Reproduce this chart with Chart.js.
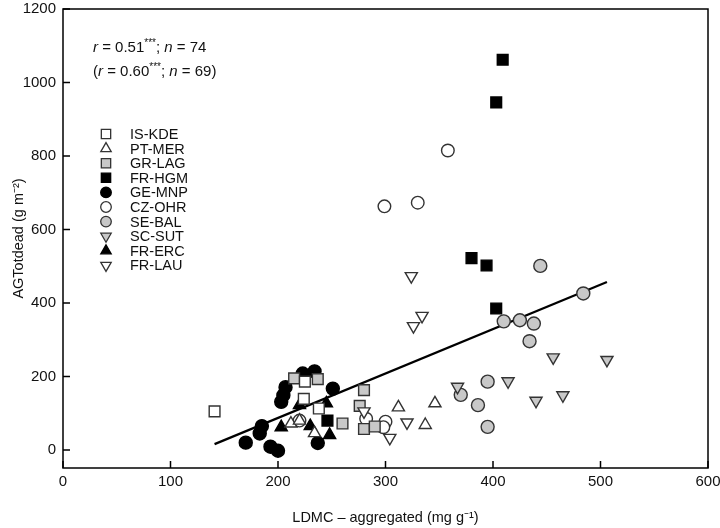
<!DOCTYPE html>
<html><head><meta charset="utf-8">
<script src="https://cdn.jsdelivr.net/npm/chart.js@4.4.1/dist/chart.umd.min.js"></script>
<style>html,body{margin:0;padding:0;background:#fff}#wrap{width:720px;height:528px;position:relative}</style>
</head><body><div id="wrap"><canvas id="c"></canvas></div>
<script>
// ---- data ----
const groups = ['IS-KDE','PT-MER','GR-LAG','FR-HGM','GE-MNP','CZ-OHR','SE-BAL','SC-SUT','FR-ERC','FR-LAU'];
const isKdeX = [141, 225, 224, 238];
const isKdeY = [105, 186, 139, 113];
const ptMerX = [212, 220, 234, 312, 346, 337];
const ptMerY = [72, 80, 46, 116, 127, 68];
const grLagX = [215, 237, 280, 276, 260, 280, 290];
const grLagY = [195, 193, 163, 120, 72, 57, 64];
const frHgmX = [246, 380, 394, 403, 403, 409];
const frHgmY = [80, 522, 502, 385, 946, 1062];
const geMnpX = [170, 185, 183, 193, 200, 237, 203, 205, 207, 223, 234, 251];
const geMnpY = [20, 65, 45, 9, -2, 19, 131, 149, 171, 208, 214, 167];
const czOhrX = [220, 282, 300, 298, 299, 330, 358];
const czOhrY = [80, 85, 77, 62, 663, 673, 815];
const seBalX = [370, 386, 395, 395, 410, 425, 434, 438, 444, 484];
const seBalY = [150, 122, 186, 63, 350, 353, 296, 344, 501, 426];
const scSutX = [367, 414, 440, 456, 465, 506];
const scSutY = [172, 187, 134, 252, 149, 245];
const frErcX = [220, 245, 203, 230, 248];
const frErcY = [122, 127, 62, 65, 41];
const frLauX = [280, 304, 320, 324, 334, 326];
const frLauY = [105, 33, 75, 473, 365, 337];
const fitX = [141, 506];
const fitY = [16, 457];
const xTicks = [0, 100, 200, 300, 400, 500, 600];
const yTicks = [0, 200, 400, 600, 800, 1000, 1200];
const xTitle = 'LDMC \u2013 aggregated (mg g\u207B\u00B9)';
const yTitle = 'AGTotdead (g m\u207B\u00B2)';
const statLine1 = ['r', ' = 0.51', '***', '; ', 'n', ' = 74'];
const statLine2 = ['(', 'r', ' = 0.60', '***', '; ', 'n', ' = 69)'];

// ---- styles ----
const GREY = '#c8c8c8', EDGE = '#333333';
const styles = [
  {ps:'rect', bg:'#ffffff', bc:EDGE, r:7.6, rot:0, rank:8},
  {ps:'triangle', bg:'#ffffff', bc:EDGE, r:7, rot:0, rank:5},
  {ps:'rect', bg:GREY, bc:EDGE, r:7.6, rot:0, rank:7},
  {ps:'rect', bg:'#000000', bc:'#000000', r:7.6, rot:0, rank:6},
  {ps:'circle', bg:'#000000', bc:'#000000', r:6.5, rot:0, rank:0},
  {ps:'circle', bg:'#ffffff', bc:EDGE, r:6.3, rot:0, rank:4},
  {ps:'circle', bg:GREY, bc:EDGE, r:6.5, rot:0, rank:2},
  {ps:'triangle', bg:GREY, bc:EDGE, r:7, rot:180, rank:3},
  {ps:'triangle', bg:'#000000', bc:'#000000', r:7, rot:0, rank:1},
  {ps:'triangle', bg:'#ffffff', bc:EDGE, r:7, rot:180, rank:9}
];
const xs = [isKdeX, ptMerX, grLagX, frHgmX, geMnpX, czOhrX, seBalX, scSutX, frErcX, frLauX];
const ys = [isKdeY, ptMerY, grLagY, frHgmY, geMnpY, czOhrY, seBalY, scSutY, frErcY, frLauY];

const datasets = groups.map((g, i) => ({
  type: 'scatter',
  label: g,
  data: xs[i].map((x, j) => ({x: x, y: ys[i][j]})),
  pointStyle: styles[i].ps,
  pointRadius: styles[i].r,
  pointHoverRadius: styles[i].r,
  pointRotation: styles[i].rot,
  backgroundColor: styles[i].bg,
  borderColor: styles[i].bc,
  borderWidth: 1.4,
  order: 20 - styles[i].rank
}));
datasets.push({
  type: 'line',
  label: 'fit',
  data: fitX.map((x, j) => ({x: x, y: fitY[j]})),
  borderColor: '#000',
  borderWidth: 2.2,
  pointRadius: 0,
  fill: false,
  order: 100
});

const FONT = '"Liberation Sans", Arial, Helvetica, sans-serif';

const decor = {
  id: 'decor',
  afterDraw(chart) {
    const ctx = chart.ctx, a = chart.chartArea;
    const sx = chart.scales.x, sy = chart.scales.y;
    ctx.save();
    ctx.strokeStyle = '#000';
    ctx.lineWidth = 1.5;
    ctx.strokeRect(a.left, a.top, a.right - a.left, a.bottom - a.top);
    ctx.beginPath();
    xTicks.forEach(v => { const p = sx.getPixelForValue(v); ctx.moveTo(p, a.bottom); ctx.lineTo(p, a.bottom - 7); });
    yTicks.forEach(v => { const p = sy.getPixelForValue(v); ctx.moveTo(a.left, p); ctx.lineTo(a.left + 7, p); });
    ctx.stroke();

    const drawRich = (parts, x, y) => {
      ctx.textBaseline = 'alphabetic';
      ctx.textAlign = 'left';
      ctx.fillStyle = '#111';
      parts.forEach(t => {
        let f = '15px ' + FONT, dy = 0;
        if (t === 'r' || t === 'n') f = 'italic 15px ' + FONT;
        if (t === '***') { f = '10px ' + FONT; dy = -6; }
        ctx.font = f;
        ctx.fillText(t, x, y + dy);
        x += ctx.measureText(t).width;
      });
    };
    drawRich(statLine1, 93, 52);
    drawRich(statLine2, 93, 76);

    const lx = 106, lt = 134, step = 14.6;
    groups.forEach((g, i) => {
      const y = lt + i * step, s = styles[i];
      ctx.fillStyle = s.bg; ctx.strokeStyle = s.bc; ctx.lineWidth = 1.3;
      const r = s.ps === 'rect' ? 6.6 : (s.ps === 'circle' ? 5.3 : 6);
      Chart.helpers.drawPoint(ctx, {pointStyle: s.ps, radius: r, rotation: s.rot, borderWidth: 1.3}, lx, y);
      ctx.fillStyle = '#111';
      ctx.font = '14.5px ' + FONT;
      ctx.textAlign = 'left';
      ctx.textBaseline = 'middle';
      ctx.fillText(g, 130, y + 1);
    });
    ctx.restore();
  }
};

new Chart(document.getElementById('c'), {
  data: {datasets: datasets},
  options: {
    responsive: true,
    maintainAspectRatio: false,
    animation: false,
    events: [],
    layout: {padding: {top: 0, right: 0, left: 0, bottom: 0}},
    plugins: {legend: {display: false}, tooltip: {enabled: false}},
    scales: {
      x: {
        type: 'linear', min: 0, max: 600,
        afterBuildTicks: s => { s.ticks = xTicks.map(v => ({value: v})); },
        afterFit: s => { s.height = 60; s.paddingLeft = 0; s.paddingRight = 12; },
        grid: {display: false, drawTicks: false},
        border: {display: false},
        ticks: {color: '#111', font: {family: FONT, size: 15}, padding: 5, maxRotation: 0, autoSkip: false, callback: v => String(v)},
        title: {display: true, text: xTitle, color: '#111', font: {family: FONT, size: 14.5}, padding: {top: 0, bottom: 1}}
      },
      y: {
        type: 'linear', min: -49, max: 1200,
        afterBuildTicks: s => { s.ticks = yTicks.map(v => ({value: v})); },
        afterFit: s => { s.width = 63; s.paddingTop = 8; s.paddingBottom = 0; },
        grid: {display: false, drawTicks: false},
        border: {display: false},
        ticks: {color: '#111', font: {family: FONT, size: 15}, padding: 7, autoSkip: false, callback: v => String(v)},
        title: {display: true, text: yTitle, color: '#111', font: {family: FONT, size: 14.5}, padding: {top: 10, bottom: 0}}
      }
    }
  },
  plugins: [decor]
});
</script></body></html>
